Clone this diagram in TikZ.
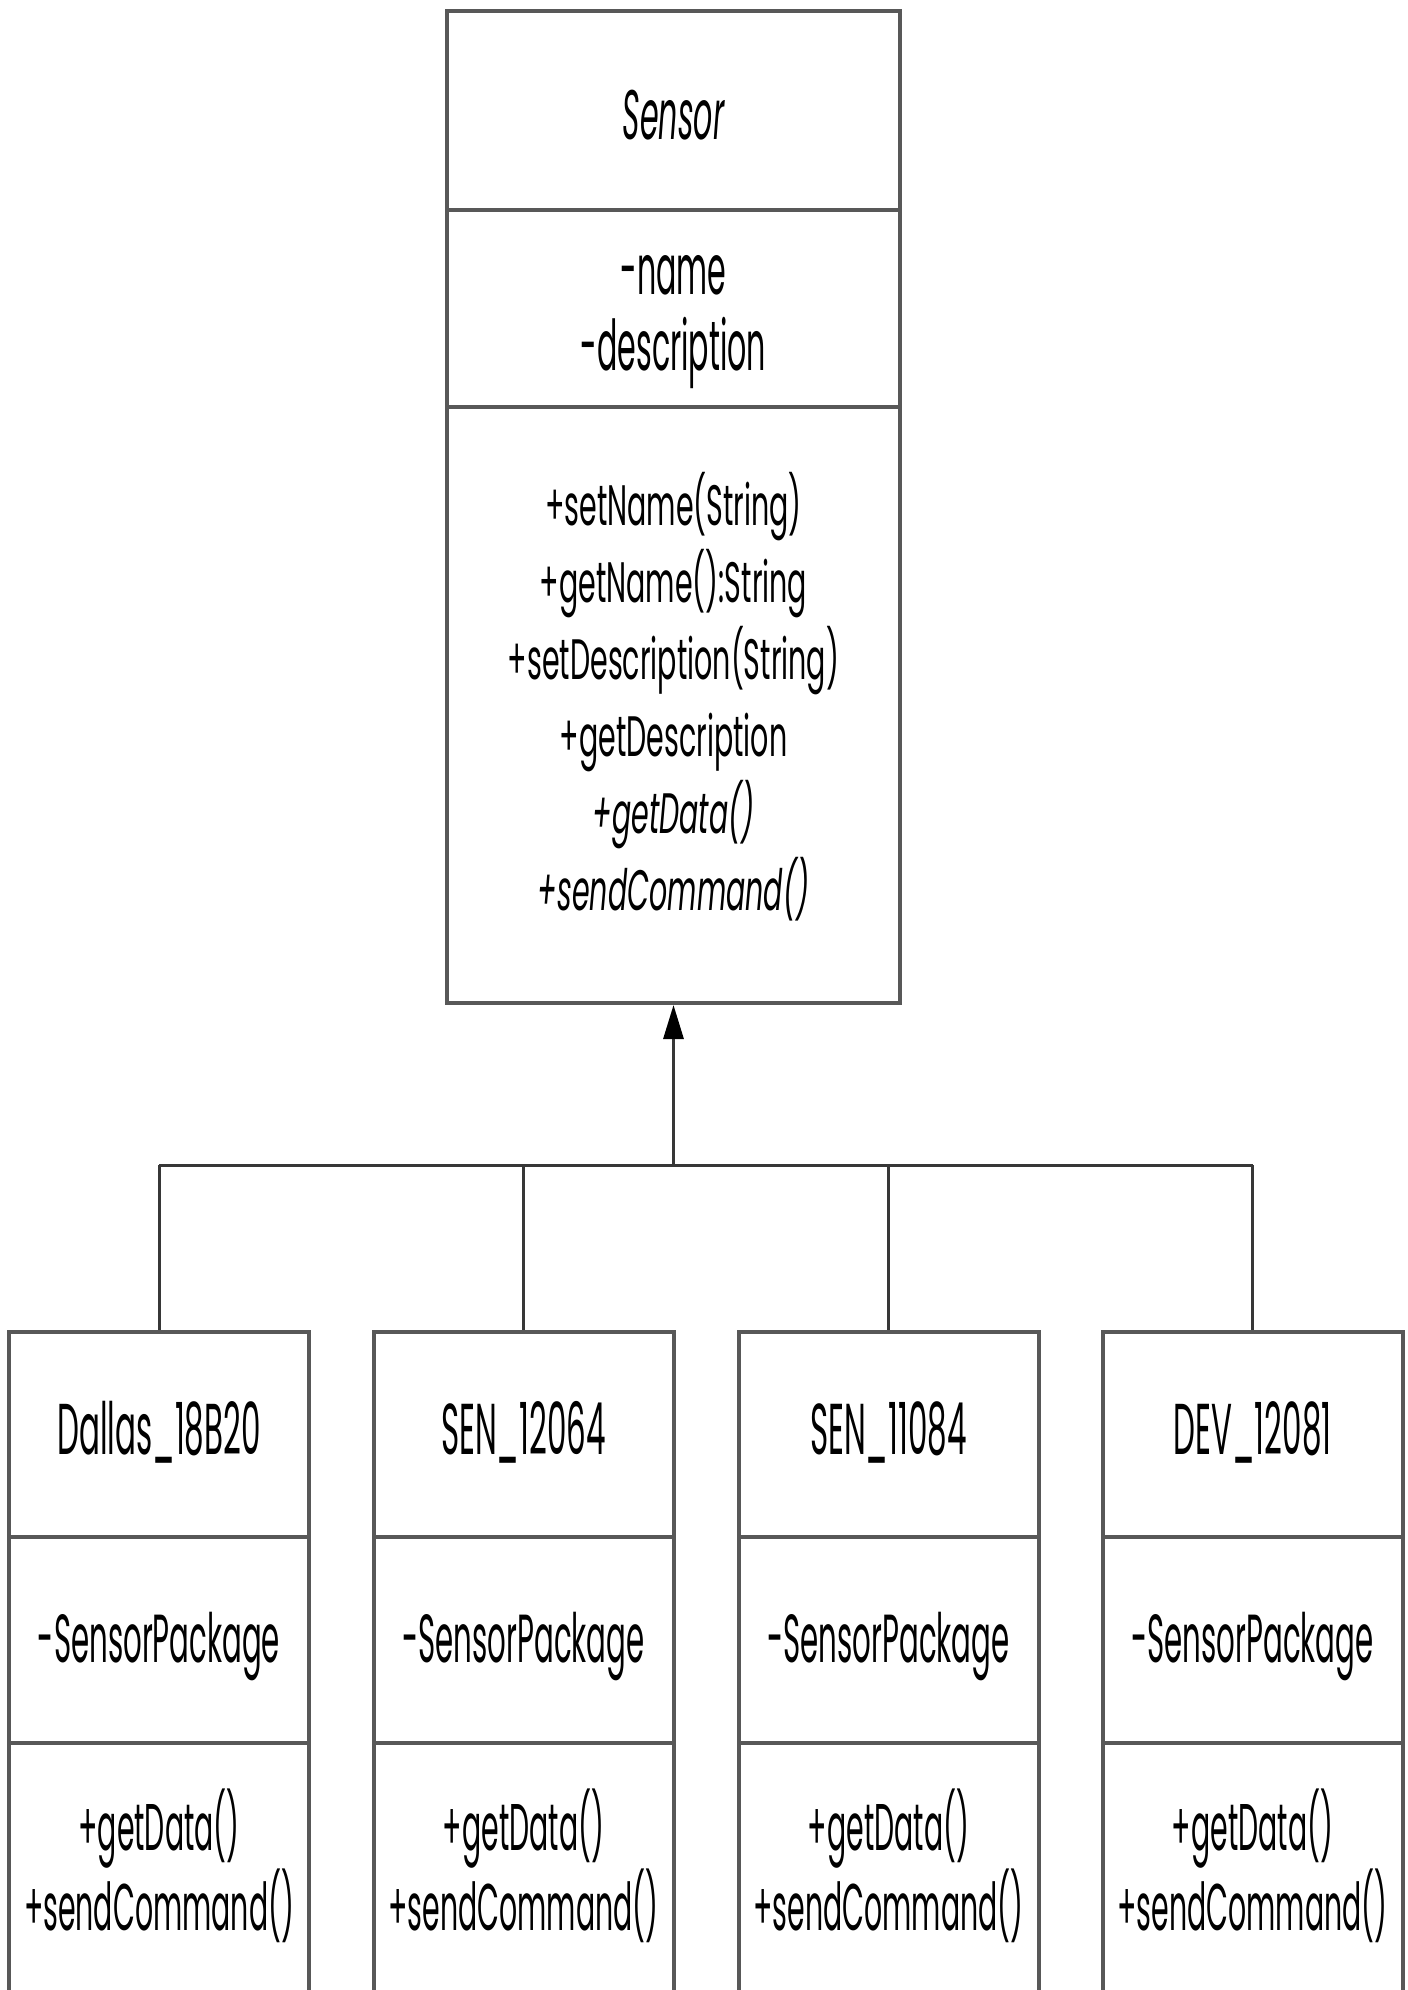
\documentclass[tikz,border=0pt]{standalone}
\usepackage{fontspec}
\setmainfont{Poppins}[FakeStretch=0.5]
\newfontfamily\cond{Poppins}[FakeStretch=0.43]
\usetikzlibrary{arrows.meta}
\definecolor{linegray}{RGB}{88,88,88}
\definecolor{conngray}{RGB}{55,55,55}
\begin{document}
\begin{tikzpicture}[x=1pt,y=-1pt,
  comp/.style={draw=linegray, line width=4pt, inner sep=0pt},
  txt/.style={inner sep=0pt, align=center, text=black},
  conn/.style={draw=conngray, line width=3pt}]
\useasboundingbox (0,0) rectangle (1408,1990);
\fill[white] (0,0) rectangle (1408,1990);
% Superclass compartments
\node[comp, minimum width=453pt, minimum height=199pt] (stitle) at (673.5,110) {};
\node[comp, minimum width=453pt, minimum height=197pt] (sattr) at (673.5,308.5) {};
\node[comp, minimum width=453pt, minimum height=596pt] (smeth) at (673.5,705) {};
\node[txt, font=\cond\fontsize{70}{75}\selectfont\itshape] (stitletxt) at (673.5,115) {Sensor};
\node[txt, font=\cond\fontsize{70}{76}\selectfont] (sattrtxt) at (673.5,322) {-name\\-description};
\node[txt, font=\fontsize{57}{77}\selectfont] (smethtxt) at (673.5,697) {+setName(String)\\+getName():String\\+setDescription(String)\\+getDescription\\\textit{+getData()}\\\textit{+sendCommand()}};
% Subclasses
\foreach \i/\x/\cname in {1/159/Dallas\_18B20, 2/523.5/SEN\_12064, 3/888.5/SEN\_11084, 4/1252.5/DEV\_12081}{
  \node[comp, minimum width=300pt, minimum height=205pt] (c\i t) at (\x,1434.5) {};
  \node[comp, minimum width=300pt, minimum height=206pt] (c\i a) at (\x,1640) {};
  \node[comp, minimum width=300pt, minimum height=252pt] (c\i m) at (\x,1869) {};
  \node[txt, font=\cond\fontsize{72}{75}\selectfont] (c\i ttxt) at (\x,1432) {\cname};
  \node[txt, font=\cond\fontsize{68}{75}\selectfont] (c\i atxt) at (\x,1646) {-SensorPackage};
  \node[txt, font=\cond\fontsize{66}{76}\selectfont] (c\i mtxt) at (\x,1866) {+getData()\\+sendCommand()};
}
% Generalization connectors
\coordinate (junction) at (673.5,1165);
\draw[conn, -{Triangle[length=34pt,width=20pt,color=black]}] (junction) -- (smeth.south);
\draw[conn] (c1t.north |- junction) -- (c4t.north |- junction);
\foreach \i in {1,2,3,4}{
  \draw[conn] (c\i t.north |- junction) -- (c\i t.north);
}
\end{tikzpicture}
\end{document}
